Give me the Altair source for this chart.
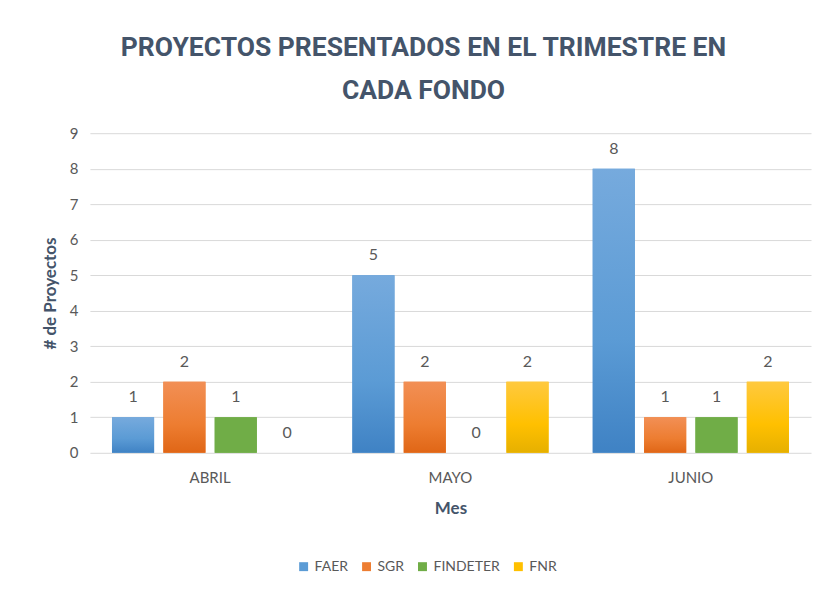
import altair as alt
import pandas as pd

meses = ["ABRIL", "MAYO", "JUNIO"]
fondos = ["FAER", "SGR", "FINDETER", "FNR"]
faer = [1, 5, 8]
sgr = [2, 2, 1]
findeter = [1, 0, 1]
fnr = [0, 2, 2]

series = {"FAER": faer, "SGR": sgr, "FINDETER": findeter, "FNR": fnr}
rows = []
for f in fondos:
    for m, v in zip(meses, series[f]):
        rows.append({"Mes": m, "Fondo": f, "Valor": v})
df = pd.DataFrame(rows)

solid = ["#5B9BD5", "#ED7D31", "#70AD47", "#FFC000"]
grads = {
    "FAER": ["#76AADD", "#5B9BD5", "#3F82C4"],
    "SGR": ["#F28F55", "#ED7D31", "#E06616"],
    "FINDETER": ["#70AD47", "#70AD47", "#70AD47"],
    "FNR": ["#FFC93F", "#FFC000", "#E6B000"],
}

FONT = "Lato"
TXT = "#595959"
SLATE = "#44546A"

x = alt.X("Mes:N", sort=meses, scale=alt.Scale(paddingInner=0, paddingOuter=0),
          axis=alt.Axis(title="Mes", labelAngle=0, ticks=False, domain=False,
                        labelPadding=18, titlePadding=15))
xo = alt.XOffset("Fondo:N", sort=fondos,
                 scale=alt.Scale(paddingInner=0.18, paddingOuter=0.43))
y = alt.Y("Valor:Q", scale=alt.Scale(domain=[0, 9], nice=False),
          axis=alt.Axis(title="# de Proyectos", values=list(range(10)), ticks=False,
                        domain=False, labelPadding=12, titlePadding=10,
                        gridColor="#D9D9D9"))

base = alt.Chart(df)
legend_layer = base.mark_bar().encode(
    x=x, xOffset=xo, y=y,
    color=alt.Color("Fondo:N", sort=fondos,
                    scale=alt.Scale(domain=fondos, range=solid),
                    legend=alt.Legend(title=None, orient="none", direction="horizontal",
                                      legendX=207, legendY=427, symbolType="square",
                                      symbolSize=80, labelFontSize=14, columnPadding=11,
                                      labelColor=TXT, labelFont=FONT, symbolStrokeWidth=0)),
)

layers = [legend_layer]
for f in fondos:
    g = grads[f]
    layers.append(
        base.transform_filter(alt.datum.Fondo == f).mark_bar(
            color=alt.LinearGradient(
                gradient="linear", x1=0, x2=0, y1=0, y2=1,
                stops=[alt.GradientStop(offset=0, color=g[0]),
                       alt.GradientStop(offset=0.6, color=g[1]),
                       alt.GradientStop(offset=1, color=g[2])],
            )
        ).encode(x=x, xOffset=xo, y=y)
    )

labels = base.mark_text(dy=-12, baseline="bottom", fontSize=16, color=TXT, font=FONT).encode(
    x=x, xOffset=xo, y=y, text="Valor:Q"
)
layers.append(labels)

chart = alt.layer(*layers).properties(
    width=722, height=320,
    padding={"left": 82, "top": 125, "right": 10, "bottom": 130},
    autosize=alt.AutoSizeParams(type="none"),
    title=alt.Title(["PROYECTOS PRESENTADOS EN EL TRIMESTRE EN", "CADA FONDO"],
                    fontSize=26.5, font="Roboto", fontWeight="bold",
                    color=SLATE, anchor="middle", dx=-27, offset=22, lineHeight=43),
).configure_view(stroke=None).configure_axis(
    labelFont=FONT, labelFontSize=15, labelColor=TXT,
    titleFont=FONT, titleFontSize=17, titleColor=SLATE, titleFontWeight="bold",
)

chart.save("out.html", embed_options={"renderer": "svg", "actions": False})
